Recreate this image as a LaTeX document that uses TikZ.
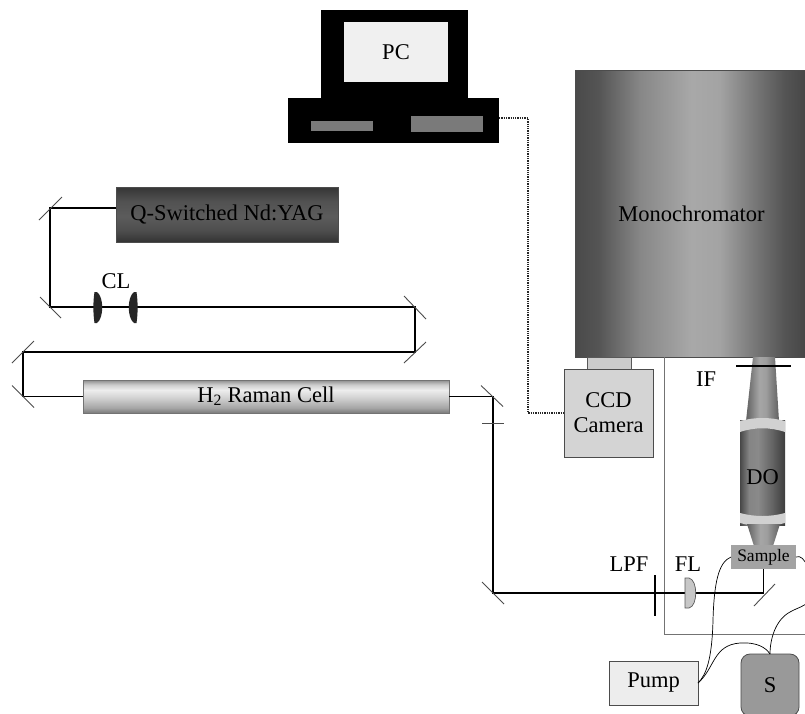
\documentclass[tikz,border=0pt]{standalone}
\usepackage{fontspec}
\setmainfont{Liberation Serif}
\usetikzlibrary{calc}

% Grey ramps. TikZ stretches the band between 25bp and 75bp over the
% bounding box of the shaded path, so every stop sits inside that band.
\pgfdeclarehorizontalshading{monoshade}{100bp}{
  color(0bp)=(black!71); color(25bp)=(black!71); color(30bp)=(black!67);
  color(39bp)=(black!47); color(50bp)=(black!34); color(56bp)=(black!36);
  color(63bp)=(black!52); color(70bp)=(black!67); color(75bp)=(black!73);
  color(100bp)=(black!73)}
\pgfdeclareverticalshading{yagshade}{100bp}{
  color(0bp)=(black!80); color(25bp)=(black!80); color(35bp)=(black!70);
  color(48bp)=(black!64); color(62bp)=(black!68); color(75bp)=(black!79);
  color(100bp)=(black!79)}
\pgfdeclareverticalshading{ramanshade}{100bp}{
  color(0bp)=(black!52); color(25bp)=(black!52); color(33bp)=(black!35);
  color(48bp)=(black!18); color(60bp)=(black!7); color(68bp)=(black!20);
  color(75bp)=(black!45); color(100bp)=(black!45)}
\pgfdeclarehorizontalshading{barrelshade}{100bp}{
  color(0bp)=(black!72); color(25bp)=(black!72); color(35bp)=(black!48);
  color(45bp)=(black!46); color(60bp)=(black!60); color(75bp)=(black!76);
  color(100bp)=(black!76)}
\pgfdeclarehorizontalshading{coneshade}{100bp}{
  color(0bp)=(black!62); color(25bp)=(black!62); color(45bp)=(black!35);
  color(55bp)=(black!38); color(75bp)=(black!62); color(100bp)=(black!62)}

\tikzset{
  txt/.style={font=\fontsize{22.5}{25}\selectfont},
  smalltxt/.style={font=\fontsize{17.5}{19}\selectfont},
  beam/.style={line width=1.8pt, black},
  mirror/.style={line width=0.9pt, black!70},
  boxline/.style={line width=0.8pt, draw=black!70},
  lensfill/.style={fill=black!85},
  frameline/.style={line width=1pt, black!55},
  wire/.style={line width=0.7pt, black},
  dotline/.style={densely dotted, line width=1.3pt, black!85},
}

\begin{document}
\begin{tikzpicture}[x=1pt, y=-1pt, every node/.style={inner sep=0pt, outer sep=0pt}]
\useasboundingbox (0,0) rectangle (805,713);
\fill[white] (0,0) rectangle (805,713);
\clip (0,0) rectangle (805,713);

% ---------- computer ----------
\node[fill=black, minimum width=147pt, minimum height=89pt] (monitor) at (394.5,54.5) {};
\node[fill=black!6, minimum width=104pt, minimum height=60pt, txt] (screen) at (396,52) {PC};
\node[fill=black, minimum width=211pt, minimum height=45pt] (pcbase) at (393.5,120.5) {};
\node[fill=black!52, minimum width=62pt, minimum height=10pt] (slotA) at (342,126) {};
\node[fill=black!52, minimum width=72pt, minimum height=16pt] (slotB) at (447,124) {};

% ---------- laser and Raman shifter ----------
\node[boxline, shade, shading=yagshade, minimum width=222pt, minimum height=55pt, txt]
  (yag) at (227,214.5) {Q-Switched Nd:YAG};
\node[line width=0.8pt, draw=black!55, shade, shading=ramanshade, minimum width=366pt,
  minimum height=33pt, txt] (raman) at (266,396.5) {H\textsubscript{2} Raman Cell};

% ---------- spectrometer ----------
\node[boxline, shade, shading=monoshade, minimum width=233pt, minimum height=287pt, txt]
  (mono) at (691.5,213.5) {Monochromator};
\node[draw=black!65, line width=0.7pt, fill=black!20, minimum width=44pt, minimum height=12pt]
  (ccdport) at (609,363) {};
\node[boxline, fill=black!17, minimum width=89pt, minimum height=88pt, txt, align=center]
  (ccd) at (608.5,413) {CCD\\Camera};

% microscope frame
\coordinate (frtop) at (664,357);
\coordinate (frcorner) at (664,634);
\coordinate (frend) at (808,634);
\draw[frameline] (frtop) -- (frcorner) -- (frend);

% ---------- objective (DO) ----------
\shade[shading=coneshade] (753,357) -- (775,357) -- (779,421) -- (746,421) -- cycle;
\shade[shading=barrelshade] (740,420) rectangle (785,525);
\fill[black!18] (740,421) .. controls (755,417) and (770,417) .. (785,421) -- (785,432)
  .. controls (770,427) and (755,427) .. (740,432) -- cycle;
\fill[black!18] (740,513) .. controls (755,517) and (770,517) .. (785,513) -- (785,523)
  .. controls (770,527) and (755,527) .. (740,523) -- cycle;
\shade[shading=coneshade] (747,524) -- (780,524) -- (773,546) -- (754,546) -- cycle;
\node[txt] (do) at (762.5,477) {DO};
\node[fill=black!36, minimum width=65pt, minimum height=24pt, smalltxt] (sample) at (763.5,557) {Sample};

% interference filter
\draw[line width=2.5pt] (736,366) -- (791,366);
\node[txt] (iflabel) at (706,379) {IF};

% ---------- pump and supply ----------
\node[boxline, fill=black!7, minimum width=89pt, minimum height=44pt, txt] (pump) at (653.5,683) {Pump};
\node[boxline, fill=black!40, rounded corners=9pt, minimum width=58pt, minimum height=62pt, txt]
  (src) at (770,685) {S};

% ---------- beam path ----------
\coordinate (m1) at (50,208);
\coordinate (m2) at (50,307);
\coordinate (m3) at (415,307);
\coordinate (m4) at (415,352);
\coordinate (m5) at (23,352);
\coordinate (m6) at (23,396.5);
\coordinate (m7) at (493,396.5);
\coordinate (m8) at (493,593);
\coordinate (m9) at (763.5,593);
\coordinate (tk) at (493,423.5);

\draw[beam] (yag.west |- m1) -- (m1) -- (m2) -- (m3) -- (m4) -- (m5) -- (m6) -- (raman.west);
\draw[beam] (raman.east) -- (m7) -- (m8) -- (m9) -- (sample.south);

% mirrors
\draw[mirror] (m1) ++(-11,12) -- ++(23,-23);
\draw[mirror] (m2) ++(-10,-10) -- ++(21,21);
\draw[mirror] (m3) ++(-11,-11) -- ++(22,23);
\draw[mirror] (m4) ++(-11,11) -- ++(22,-21);
\draw[mirror] (m5) ++(-11,11) -- ++(22,-22);
\draw[mirror] (m6) ++(-11,-11) -- ++(22,22);
\draw[mirror] (m7) ++(-12,-11) -- ++(22,21);
\draw[mirror] (m8) ++(-11,-11) -- ++(22,22);
\draw[mirror] (m9) ++(-9.5,13) -- ++(21,-22);
\draw[mirror] (tk) ++(-11,0) -- ++(22,0);

% cylindrical lens pair: flat outer faces, convex inner faces
\fill[lensfill] (94.5,292) -- (97,292) .. controls (104,297) and (104,318) .. (97,323)
  -- (94.5,323) .. controls (93,313) and (93,302) .. (94.5,292) -- cycle;
\fill[lensfill] (136.5,292) -- (134,292) .. controls (127,297) and (127,318) .. (134,323)
  -- (136.5,323) .. controls (138,313) and (138,302) .. (136.5,292) -- cycle;
\node[txt] (cl) at (116,281) {CL};

% long-pass filter and focusing lens
\draw[line width=2.8pt] (655,575) -- (655,616);
\node[txt] (lpf) at (629,564) {LPF};
\filldraw[fill=black!22, draw=black!65, line width=0.7pt] (685,578) -- (689,578)
  .. controls (698,580) and (698,606) .. (689,608) -- (685,608) -- cycle;
\node[txt] (fl) at (688,564) {FL};

% ---------- PC link ----------
\coordinate (pcport) at (499,118);
\coordinate (bend1) at (528,118);
\coordinate (bend2) at (528,413);
\draw[dotline] (pcport) -- (bend1) -- (bend2) -- (ccd.west);

% ---------- tubing and cables ----------
\draw[wire] (pump.east) .. controls (706,675) and (712,660) .. (713,620)
  .. controls (714,585) and (718,562) .. (sample.west);
\draw[wire] (pump.east) .. controls (715,668) and (713,645) .. (740,643)
  .. controls (758,642) and (766,648) .. (src.north);
\draw[wire] (sample.east) .. controls (805,553) and (812,575) .. (812,590)
  .. controls (812,606) and (800,606) .. (790,612)
  .. controls (775,620) and (770,640) .. (src.north);
\end{tikzpicture}
\end{document}
